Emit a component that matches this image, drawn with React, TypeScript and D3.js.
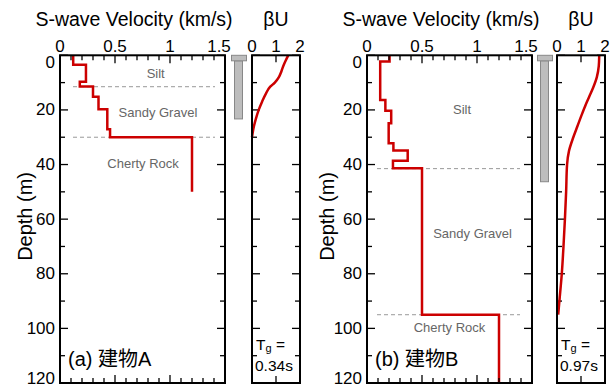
import React from "react";
import * as d3 from "d3";

// ---------- data ----------
const depthTicks = [0, 20, 40, 60, 80, 100, 120];
const depthMinor = [10, 30, 50, 70, 90, 110];
const velTicks = [0, 0.5, 1, 1.5];
const velTickLabels = ["0", "0.5", "1", "1.5"];
const buTicks = [0, 1, 2];

// Building A: S-wave velocity layers (km/s) with depth boundaries (m)
const velA = [0.12, 0.236, 0.18, 0.3, 0.35, 0.43, 0.455, 1.2];
const boundsA = [0, 3.5, 9.7, 11.4, 15.2, 19.8, 27.1, 30, 50];
// Building B
const velB = [0.205, 0.12, 0.167, 0.22, 0.197, 0.24, 0.37, 0.236, 0.5, 1.2];
const boundsB = [0, 2.3, 16.4, 20.3, 24.9, 32.2, 34.9, 38.6, 41.4, 95, 120];

// βU profiles (depth, value)
const buDepthA = [0, 2, 4, 6, 8, 10, 11.5, 14, 17, 20, 23, 26, 30];
const buValA = [1.51, 1.4, 1.3, 1.22, 1.12, 0.95, 0.76, 0.58, 0.42, 0.28, 0.17, 0.08, 0];
const buDepthB = [0, 4, 8, 12, 15, 18, 22, 26, 30, 35, 40, 50, 60, 70, 80, 90, 95];
const buValB = [1.76, 1.74, 1.66, 1.5, 1.35, 1.2, 1.02, 0.85, 0.68, 0.5, 0.42, 0.38, 0.33, 0.27, 0.2, 0.1, 0.05];

// layer boundaries (dashed) and names
const layerLinesA = [11.5, 30];
const layerLinesB = [41.5, 95];
const layerNames = ["Silt", "Sandy Gravel", "Cherty Rock"];
const layerLabelPosA = [[0.87, 6.8], [0.89, 21], [0.755, 39.8]];
const layerLabelPosB = [[0.864, 20], [0.96, 65.2], [0.75, 99.8]];

const pileDepthA = 23.3;
const pileDepthB = 46.3;

const tgA = "0.34s";
const tgB = "0.97s";
const nameA = "(a) 建物A";
const nameB = "(b) 建物B";

const RED = "#cc0000";
const FONT = "'Liberation Sans', Arial, 'Noto Sans CJK JP', sans-serif";

type PanelProps = {
  ox: number;
  vel: number[];
  bounds: number[];
  buDepth: number[];
  buVal: number[];
  layerLines: number[];
  labelPos: number[][];
  pileDepth: number;
  tg: string;
  name: string;
  buX0: number;
  pileX: number;
  dashX: [number, number];
  depthLabelX: number;
};

function Panel(p: PanelProps) {
  const y = d3.scaleLinear().domain([0, 120]).range([55.3, 383]);
  const x = d3.scaleLinear().domain([0, 1.5]).range([p.ox, p.ox + 165]);
  const xb = d3.scaleLinear().domain([0, 2]).range([p.buX0, p.buX0 + 48]);
  const top = y(0);
  const bot = y(120);

  const stepPts: [number, number][] = [];
  p.vel.forEach((v, i) => {
    stepPts.push([v, p.bounds[i]]);
    stepPts.push([v, p.bounds[i + 1]]);
  });
  const stepLine = d3
    .line<[number, number]>()
    .x((d) => x(d[0]))
    .y((d) => y(d[1]));

  const buPts: [number, number][] = p.buDepth.map((d, i) => [p.buVal[i], d]);
  const buLine = d3
    .line<[number, number]>()
    .x((d) => xb(d[0]))
    .y((d) => y(d[1]))
    .curve(d3.curveMonotoneY);

  const minorVel = d3.range(1, 15).map((i) => i / 10).filter((v) => Math.abs(v - 0.5) > 1e-6 && Math.abs(v - 1) > 1e-6);

  const labelY = (v: number) => Math.min(Math.max(y(v), 62), 378);

  return (
    <g fontFamily={FONT}>
      {/* titles */}
      <text x={p.ox + 74} y={26} fontSize={19.5} textAnchor="middle" fill="#000">
        S-wave Velocity (km/s)
      </text>
      <text x={xb(1)} y={26} fontSize={19.5} textAnchor="middle" fill="#000">
        βU
      </text>
      <text
        transform={`translate(${p.depthLabelX},${y(59)}) rotate(-90)`}
        fontSize={20}
        textAnchor="middle"
        fill="#000"
      >
        Depth (m)
      </text>

      {/* velocity x tick labels */}
      {velTicks.map((v, i) => (
        <text key={"vt" + i} x={x(v) - (i === 3 ? 6 : 0)} y={52} fontSize={17} textAnchor="middle">
          {velTickLabels[i]}
        </text>
      ))}
      {buTicks.map((v) => (
        <text key={"bt" + v} x={xb(v)} y={52} fontSize={17} textAnchor="middle">
          {v}
        </text>
      ))}
      {/* depth labels */}
      {depthTicks.map((d) => (
        <text key={"dl" + d} x={p.ox - 5} y={labelY(d)} fontSize={17} textAnchor="end" dominantBaseline="central">
          {d}
        </text>
      ))}

      {/* layer dashed lines */}
      {p.layerLines.map((d) => (
        <line key={"ll" + d} x1={p.dashX[0]} x2={p.dashX[1]} y1={y(d)} y2={y(d)} stroke="#999" strokeWidth={1} strokeDasharray="4,3" />
      ))}
      {layerNames.map((n, i) => (
        <text key={n} x={x(p.labelPos[i][0])} y={y(p.labelPos[i][1])} fontSize={13} fill="#666" textAnchor="middle" dominantBaseline="central">
          {n}
        </text>
      ))}

      {/* velocity profile */}
      <path d={stepLine(stepPts) || ""} fill="none" stroke={RED} strokeWidth={2.5} strokeLinejoin="miter" />

      {/* frame ticks */}
      {depthTicks.concat(depthMinor).map((d) => {
        const len = d % 20 === 0 ? 8 : 5;
        return (
          <g key={"dt" + d}>
            <line x1={x(0)} x2={x(0) + len} y1={y(d)} y2={y(d)} stroke="#000" strokeWidth={1.3} />
            <line x1={x(1.5)} x2={x(1.5) - len} y1={y(d)} y2={y(d)} stroke="#000" strokeWidth={1.3} />
            <line x1={xb(0)} x2={xb(0) + len} y1={y(d)} y2={y(d)} stroke="#000" strokeWidth={1.3} />
            <line x1={xb(2)} x2={xb(2) - len} y1={y(d)} y2={y(d)} stroke="#000" strokeWidth={1.3} />
          </g>
        );
      })}
      {minorVel.map((v) => (
        <g key={"mv" + v}>
          <line x1={x(v)} x2={x(v)} y1={top} y2={top + 5} stroke="#000" strokeWidth={1.3} />
          <line x1={x(v)} x2={x(v)} y1={bot} y2={bot - 5} stroke="#000" strokeWidth={1.3} />
        </g>
      ))}
      {[0.5, 1].map((v) => (
        <g key={"Mv" + v}>
          <line x1={x(v)} x2={x(v)} y1={top} y2={top + 8} stroke="#000" strokeWidth={1.3} />
          <line x1={x(v)} x2={x(v)} y1={bot} y2={bot - 8} stroke="#000" strokeWidth={1.3} />
        </g>
      ))}
      <line x1={xb(1)} x2={xb(1)} y1={top} y2={top + 7} stroke="#000" strokeWidth={1.3} />
      <line x1={xb(1)} x2={xb(1)} y1={bot} y2={bot - 7} stroke="#000" strokeWidth={1.3} />

      <rect x={x(0)} y={top} width={x(1.5) - x(0)} height={bot - top} fill="none" stroke="#000" strokeWidth={2} />

      {/* pile */}
      <rect x={p.pileX + 3} y={top + 5.5} width={8} height={y(p.pileDepth) - top - 5.5} fill="#bdbdbd" stroke="#888" strokeWidth={1} />
      <rect x={p.pileX} y={top} width={15} height={5.5} fill="#bdbdbd" stroke="#888" strokeWidth={1} />

      {/* βU panel */}
      <path d={buLine(buPts) || ""} fill="none" stroke={RED} strokeWidth={2.5} />
      <rect x={xb(0)} y={top} width={xb(2) - xb(0)} height={bot - top} fill="none" stroke="#000" strokeWidth={2} />

      <text x={xb(0) + 4} y={350} fontSize={15.5}>
        T<tspan fontSize={11} dy={2}>g</tspan>
        <tspan dy={-2}> =</tspan>
      </text>
      <text x={xb(0) + 3} y={371} fontSize={15.5}>
        {p.tg}
      </text>

      <text x={p.ox + 8} y={366} fontSize={20}>
        {p.name}
      </text>
    </g>
  );
}

export default function App() {
  return (
    <div style={{ position: "fixed", left: 0, top: 0 }}>
      <svg width={611} height={386} style={{ display: "block", background: "#fff" }}>
        <Panel
          ox={60}
          vel={velA}
          bounds={boundsA}
          buDepth={buDepthA}
          buVal={buValA}
          layerLines={layerLinesA}
          labelPos={layerLabelPosA}
          pileDepth={pileDepthA}
          tg={tgA}
          name={nameA}
          buX0={252}
          pileX={231.5}
          dashX={[73, 215]}
          depthLabelX={32}
        />
        <Panel
          ox={367}
          vel={velB}
          bounds={boundsB}
          buDepth={buDepthB}
          buVal={buValB}
          layerLines={layerLinesB}
          labelPos={layerLabelPosB}
          pileDepth={pileDepthB}
          tg={tgB}
          name={nameB}
          buX0={557}
          pileX={537.5}
          dashX={[377, 520]}
          depthLabelX={334}
        />
      </svg>
    </div>
  );
}
